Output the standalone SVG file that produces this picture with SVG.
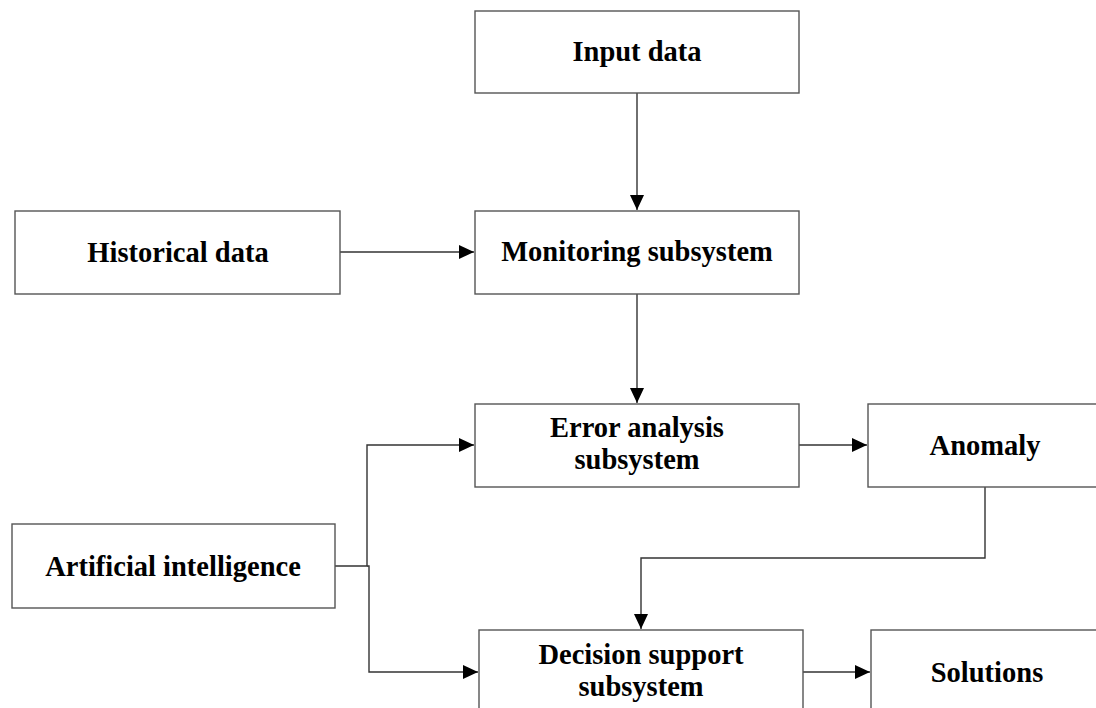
<svg xmlns="http://www.w3.org/2000/svg" width="1096" height="708" viewBox="0 0 1096 708">
<defs>
<marker id="ah" markerWidth="15" markerHeight="14" refX="15" refY="7" orient="auto" markerUnits="userSpaceOnUse">
<path d="M0,0 L15,7 L0,14 Z" fill="#000"/>
</marker>
<style>
.box{fill:#fff;stroke:#555;stroke-width:1.4}
.lbl{font-family:"Liberation Serif","Times New Roman",serif;font-weight:bold;font-size:28.5px;fill:#000;text-anchor:middle}
.c{fill:none;stroke:#333;stroke-width:1.4}
</style>
</defs>
<rect width="1096" height="708" fill="#fff"/>
<g id="connectors">
<path class="c" d="M637,93 V210" marker-end="url(#ah)"/>
<path class="c" d="M340,252 H474" marker-end="url(#ah)"/>
<path class="c" d="M637,294 V403" marker-end="url(#ah)"/>
<path class="c" d="M799,445 H867" marker-end="url(#ah)"/>
<path class="c" d="M335,566 H367 V445 H474" marker-end="url(#ah)"/>
<path class="c" d="M367,566 H369 V672 H478" marker-end="url(#ah)"/>
<path class="c" d="M985,487 V558 H641 V629" marker-end="url(#ah)"/>
<path class="c" d="M803,672 H870" marker-end="url(#ah)"/>
</g>
<g id="input-data">
<rect class="box" x="475" y="11" width="324" height="82"/>
<text class="lbl" x="637" y="61">Input data</text>
</g>
<g id="historical-data">
<rect class="box" x="15" y="211" width="325" height="83"/>
<text class="lbl" x="178" y="262">Historical data</text>
</g>
<g id="monitoring-subsystem">
<rect class="box" x="475" y="211" width="324" height="83"/>
<text class="lbl" x="637" y="261">Monitoring subsystem</text>
</g>
<g id="error-analysis-subsystem">
<rect class="box" x="475" y="404" width="324" height="83"/>
<text class="lbl" x="637" y="437">Error analysis</text>
<text class="lbl" x="637" y="469">subsystem</text>
</g>
<g id="anomaly">
<rect class="box" x="868" y="404" width="234" height="83"/>
<text class="lbl" x="985" y="455">Anomaly</text>
</g>
<g id="artificial-intelligence">
<rect class="box" x="12" y="524" width="323" height="84"/>
<text class="lbl" x="173" y="576">Artificial intelligence</text>
</g>
<g id="decision-support-subsystem">
<rect class="box" x="479" y="630" width="324" height="83"/>
<text class="lbl" x="641" y="664">Decision support</text>
<text class="lbl" x="641" y="696">subsystem</text>
</g>
<g id="solutions">
<rect class="box" x="871" y="630" width="232" height="83"/>
<text class="lbl" x="987" y="682">Solutions</text>
</g>
</svg>
